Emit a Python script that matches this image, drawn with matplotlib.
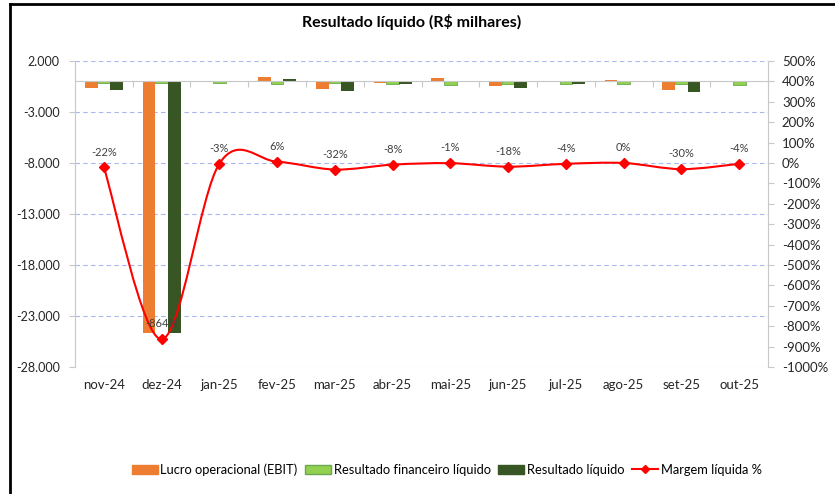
import numpy as np
import matplotlib
matplotlib.use('Agg')
import matplotlib.pyplot as plt
import matplotlib.patches as mpatches
from matplotlib.lines import Line2D
from matplotlib.path import Path
from matplotlib.ticker import FuncFormatter, FixedLocator, MultipleLocator
import matplotlib.transforms as mtransforms

plt.rcParams['font.family'] = ['Lato', 'DejaVu Sans']

# ── Data (R$ milhares) ────────────────────────────────────────────────────────
MONTHS = ['nov-24', 'dez-24', 'jan-25', 'fev-25', 'mar-25', 'abr-25',
          'mai-25', 'jun-25', 'jul-25', 'ago-25', 'set-25', 'out-25']
EBIT   = [-600, -24640, 50, 430, -780, -150, 370, -450, -50, 170, -850, 50]
FIN    = [-150, -200, -200, -300, -200, -250, -400, -250, -280, -280, -280, -320]
NET    = [-850, -24700, -50, 200, -970, -250, -50, -680, -220, -50, -1040, -100]
MARGIN = [-22, -864, -3, 6, -32, -8, -1, -18, -4, 0, -30, -4]   # %
LEFT_TICKS = [2000, -3000, -8000, -13000, -18000, -23000, -28000]

C_EBIT = '#ed7d31'
C_FIN  = '#92d050'
C_NET  = '#375623'
C_LINE = '#ff0000'
C_GRID = '#a9b7f0'
C_AXIS = '#c8c8c8'
C_TXT  = '#262626'

# ── Figure ───────────────────────────────────────────────────────────────────
fig = plt.figure(figsize=(8.35, 4.94), dpi=100)
ax = fig.add_axes([0.0898, 0.2571, 0.830, 0.6194])
ax2 = ax.twinx()

x = np.arange(len(MONTHS))
w = 0.22
ax.bar(x - w, EBIT, w, color=C_EBIT, zorder=3)
ax.bar(x, FIN, w, color=C_FIN, edgecolor='#6aa84f', linewidth=0.6, zorder=3)
ax.bar(x + w, NET, w, color=C_NET, zorder=3)

ax.set_xlim(-0.5, len(MONTHS) - 0.5)
ax.set_ylim(-28000, 2000)
ax.yaxis.set_major_locator(FixedLocator(LEFT_TICKS))
ax.yaxis.set_major_formatter(FuncFormatter(lambda v, _: f'{int(v):,}'.replace(',', '.')))
ax.grid(axis='y', color=C_GRID, linestyle=(0, (4, 3)), linewidth=0.8, zorder=0)

# category axis crosses at zero
ax.spines['bottom'].set_position(('data', 0))
ax.spines['bottom'].set_color(C_AXIS)
ax.spines['bottom'].set_zorder(4)
ax.set_xticks(np.arange(0.5, len(MONTHS), 1))
ax.set_xticklabels([])
ax.tick_params(axis='x', direction='out', length=4, color=C_AXIS)
trans = mtransforms.blended_transform_factory(ax.transData, ax.transAxes)
for i, m in enumerate(MONTHS):
    ax.text(i, -0.058, m, transform=trans, ha='center', va='center',
            fontsize=9.5, color=C_TXT)

for sp in ('top', 'right'):
    ax.spines[sp].set_visible(False)
ax.spines['left'].set_color(C_AXIS)
ax.tick_params(axis='y', direction='out', length=4, color=C_AXIS,
               labelsize=9, labelcolor=C_TXT, pad=7)

# ── Margin line (smoothed, Excel style) ──────────────────────────────────────
ax2.set_ylim(-1000, 500)
ax2.yaxis.set_major_locator(MultipleLocator(100))
ax2.yaxis.set_major_formatter(FuncFormatter(lambda v, _: f'{int(v)}%'))
for sp in ('top', 'left', 'bottom'):
    ax2.spines[sp].set_visible(False)
ax2.spines['right'].set_color(C_AXIS)
ax2.tick_params(axis='y', direction='out', length=4, color=C_AXIS,
                labelsize=9.5, labelcolor=C_TXT, pad=6)

pts = np.column_stack([x, MARGIN]).astype(float)
ext = np.vstack([pts[0], pts, pts[-1]])
verts, codes = [tuple(pts[0])], [Path.MOVETO]
for i in range(len(pts) - 1):
    p0, p1, p2, p3 = ext[i], ext[i + 1], ext[i + 2], ext[i + 3]
    c1 = p1 + (p2 - p0) / 6
    c2 = p2 - (p3 - p1) / 6
    verts += [tuple(c1), tuple(c2), tuple(p2)]
    codes += [Path.CURVE4] * 3
ax2.add_patch(mpatches.PathPatch(Path(verts, codes), fill=False,
                                 edgecolor=C_LINE, linewidth=1.5, zorder=5))
ax2.plot(x, MARGIN, linestyle='none', marker='D', markersize=5,
         color=C_LINE, zorder=6)
for xi, m in zip(x, MARGIN):
    ax2.annotate(f'{m}%', (xi, m), xytext=(0, 11), textcoords='offset points',
                 ha='center', va='center', fontsize=8, color='#404040',
                 zorder=7)

# ── Title, legend, frame ─────────────────────────────────────────────────────
fig.text(0.493, 0.955, 'Resultado líquido (R$ milhares)', ha='center',
         va='center', fontsize=11.5, fontweight='bold', color='#000000')

handles = [
    mpatches.Patch(color=C_EBIT, label='Lucro operacional (EBIT)'),
    mpatches.Patch(facecolor=C_FIN, edgecolor='#6aa84f',
                   label='Resultado financeiro líquido'),
    mpatches.Patch(color=C_NET, label='Resultado líquido'),
    Line2D([], [], color=C_LINE, marker='D', markersize=4, linewidth=1.5,
           label='Margem líquida %'),
]
fig.legend(handles=handles, loc='center', bbox_to_anchor=(0.535, 0.05),
           ncol=4, frameon=False, fontsize=9.3, handlelength=2.0,
           handleheight=0.7, handletextpad=0.2, columnspacing=0.6)

fig.add_artist(Line2D([0.012, 0.012], [0.0, 0.992], color='black',
                      linewidth=2, transform=fig.transFigure))
fig.add_artist(Line2D([0.012, 1.0], [0.992, 0.992], color='black',
                      linewidth=2, transform=fig.transFigure))

fig.savefig('out.png', dpi=100)
